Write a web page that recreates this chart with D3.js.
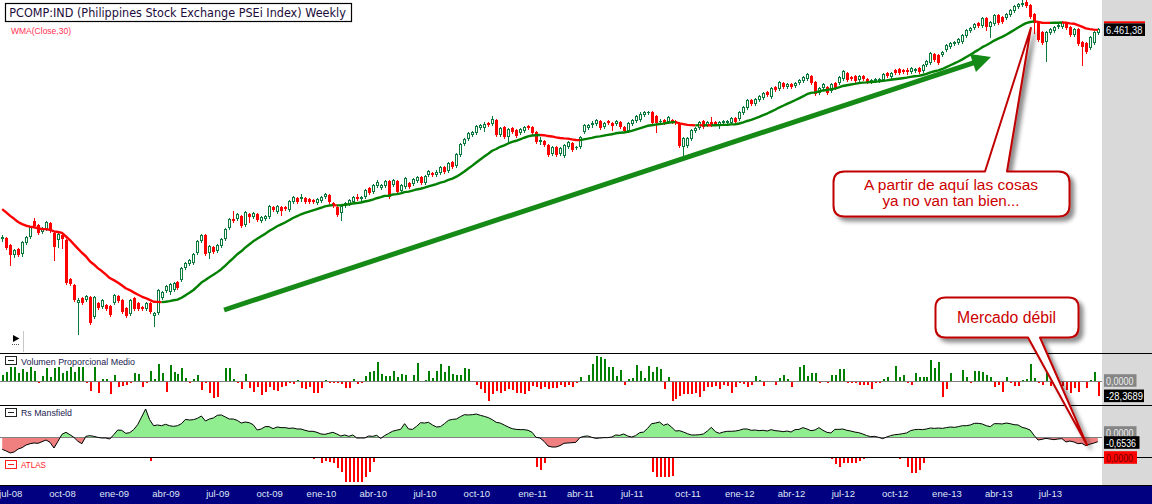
<!DOCTYPE html>
<html><head><meta charset="utf-8">
<script src="https://cdn.jsdelivr.net/npm/d3@7/dist/d3.min.js"></script>
<style>html,body{margin:0;padding:0;background:#fff;overflow:hidden}svg{display:block}</style>
</head><body>
<svg id="chart" width="1152" height="504"></svg>
<script>
// ---------------- DATA ----------------
const titleText = "PCOMP:IND (Philippines Stock Exchange PSEi Index) Weekly";
const firstWeek = "2008-06-20";   // first weekly bar (Friday)
const lastWeekBound = "2013-10-01";
const mesAbbr = ["ene","feb","mar","abr","may","jun","jul","ago","sep","oct","nov","dic"];
const tickLabels = ["jul-08","oct-08","ene-09","abr-09","jul-09","oct-09","ene-10","abr-10","jul-10","oct-10","ene-11","abr-11","jul-11","oct-11","ene-12","abr-12","jul-12","oct-12","ene-13","abr-13","jul-13"];

// closes of the 29 weeks before the first visible bar (feed the WMA only)
const preClose = [4272,4320,4224,4144,4192,4096,4032,4064,3984,3920,3952,3872,3808,3856,3776,3712,3664,3728,3632,3568,3520,3584,3488,3424,3456,3376,3328,3360,3296];

const open = [
3104,3120,3008,2848,2944,2864,3040,3136,3392,3328,
3216,3264,3360,3200,3088,3168,3088,2464,2368,2080,
2160,2128,2176,1856,2080,2016,2048,2032,2080,2192,
2128,2000,1904,2160,2080,2016,1984,2080,1872,1920,
2160,2272,2256,2288,2416,2448,2640,2704,2720,2880,
3072,3168,2880,2976,2912,2992,3104,3280,3424,3424,
3472,3328,3504,3456,3504,3392,3424,3456,3616,3536,
3616,3616,3568,3696,3760,3744,3760,3744,3728,3680,
3712,3776,3808,3680,3616,3520,3632,3664,3696,3776,
3744,3776,3920,3856,3952,3920,3952,4032,3968,4032,
3872,3936,4000,3984,4032,4096,4000,4128,4160,4128,
4160,4256,4192,4336,4272,4448,4624,4704,4768,4800,
4880,4880,4960,4944,5008,4768,4896,4736,4880,4848,
4800,4832,4912,4896,4816,4656,4672,4608,4464,4576,
4464,4432,4576,4640,4560,4576,4816,4880,4928,4944,
4992,4896,4992,4960,4944,4976,4896,4832,4944,4992,
5008,5088,5120,5136,5072,4976,5008,4976,5008,4992,
4960,4576,4592,4704,4832,4880,4992,4928,4976,4976,
4928,4960,4960,4960,5040,5024,5120,5200,5328,5264,
5328,5360,5456,5376,5536,5504,5600,5536,5584,5552,
5600,5632,5664,5712,5616,5440,5520,5536,5472,5600,
5600,5664,5760,5696,5712,5648,5712,5664,5616,5632,
5632,5648,5760,5696,5808,5824,5808,5808,5776,5792,
5840,5792,5888,5920,6064,6048,6048,6128,6176,6224,
6240,6256,6352,6432,6480,6560,6512,6640,6496,6544,
6688,6656,6640,6688,6752,6816,6848,6896,6848,6704,
6576,6416,6256,6400,6432,6496,6496,6560,6496,6368,
6464,6256,6240,6160,6240,6400];

const high = [
3168,3136,3024,2944,2960,3072,3152,3312,3440,3344,
3296,3392,3376,3216,3200,3216,3104,2480,2384,2160,
2176,2208,2192,2192,2096,2144,2064,2048,2224,2208,
2144,2016,2144,2176,2096,2032,2096,2096,1936,2304,
2272,2368,2400,2416,2432,2656,2736,2784,2880,3088,
3184,3184,3008,2992,3024,3120,3280,3440,3552,3520,
3488,3552,3520,3536,3520,3472,3488,3648,3632,3648,
3632,3632,3728,3792,3776,3824,3776,3760,3744,3760,
3792,3840,3824,3696,3632,3648,3696,3744,3792,3824,
3792,3904,3936,3984,4048,3984,4048,4048,4064,4048,
3984,4096,4016,4080,4112,4112,4128,4208,4176,4208,
4272,4272,4336,4352,4480,4640,4720,4816,4832,4928,
4944,4976,4976,5072,5024,4896,4912,4880,4896,4864,
4880,4912,4928,4912,4832,4736,4688,4624,4592,4592,
4576,4624,4672,4656,4592,4752,4944,4944,4992,5024,
5008,4976,5008,4976,5008,4992,4912,4976,5024,5088,
5136,5152,5152,5152,5088,5024,5024,5072,5024,5008,
4976,4736,4736,4864,4896,4992,5008,4992,5056,4992,
4992,5008,5008,5056,5056,5152,5232,5344,5344,5360,
5408,5456,5472,5536,5552,5632,5616,5600,5600,5616,
5664,5712,5760,5728,5632,5536,5600,5552,5600,5616,
5712,5808,5776,5712,5728,5728,5728,5680,5664,5680,
5680,5760,5776,5776,5824,5840,5824,5840,5856,5840,
5856,5904,5968,6096,6080,6064,6112,6224,6256,6272,
6320,6384,6464,6496,6560,6576,6656,6656,6592,6704,
6704,6672,6720,6784,6848,6880,6928,6928,6864,6720,
6592,6432,6432,6480,6512,6544,6592,6576,6512,6480,
6480,6272,6256,6352,6432,6480];

const low = [
3072,2944,2688,2816,2832,2832,3024,3120,3296,3184,
3200,3248,3216,2768,2976,2960,2384,2368,2112,1584,
2064,2112,1744,1840,1984,2000,1968,1872,2064,2096,
1920,1856,1888,1968,1968,1968,1968,1920,1712,1904,
2144,2256,2224,2272,2304,2432,2624,2688,2704,2864,
3056,2848,2800,2880,2896,2976,3088,3264,3376,3408,
3296,3312,3376,3440,3392,3376,3408,3440,3552,3520,
3488,3568,3552,3680,3680,3712,3680,3680,3680,3664,
3696,3760,3680,3616,3472,3408,3616,3648,3680,3728,
3728,3760,3824,3840,3936,3904,3936,3760,3952,3840,
3856,3920,3920,3968,4016,3984,3984,4112,4112,4112,
4144,4160,4176,4240,4256,4432,4608,4688,4752,4784,
4864,4832,4912,4928,4752,4752,4720,4656,4800,4736,
4784,4816,4864,4784,4640,4624,4592,4432,4448,4432,
4448,4416,4560,4512,4544,4560,4800,4864,4896,4928,
4864,4880,4944,4848,4928,4880,4816,4816,4928,4976,
4992,5072,5104,4944,4816,4960,4944,4960,4960,4944,
4576,4432,4576,4688,4816,4864,4880,4912,4912,4928,
4880,4944,4944,4944,4960,5008,5104,5184,5248,5248,
5312,5344,5392,5360,5472,5488,5520,5520,5520,5536,
5584,5616,5648,5584,5408,5424,5504,5424,5456,5504,
5584,5648,5632,5648,5616,5632,5648,5600,5600,5616,
5616,5632,5696,5680,5744,5744,5760,5744,5760,5776,
5760,5776,5872,5904,5952,5904,6032,6112,6160,6208,
6224,6240,6336,6416,6464,6496,6496,6448,6336,6528,
6544,6560,6624,6672,6736,6800,6832,6816,6640,6400,
6272,6224,5952,6384,6416,6480,6480,6464,6352,6352,
6208,5888,6080,6144,6224,6384];

const close = [
3136,2960,2848,2928,2848,3056,3136,3296,3312,3200,
3280,3376,3232,2976,3184,3104,2400,2384,2128,2128,
2080,2192,1760,2176,2000,2128,1984,1888,2208,2112,
1936,1872,2128,1984,1984,1984,2080,1936,1920,2288,
2256,2352,2384,2400,2320,2640,2720,2768,2864,3072,
3168,2864,2992,2896,3008,3104,3264,3424,3392,3504,
3312,3536,3456,3520,3408,3456,3472,3632,3568,3632,
3552,3584,3712,3776,3696,3776,3696,3696,3696,3744,
3776,3824,3696,3632,3488,3632,3680,3728,3776,3744,
3776,3888,3840,3968,4016,3968,4032,3776,4048,3856,
3968,4080,3936,4064,4096,4000,4112,4192,4128,4176,
4256,4176,4320,4256,4464,4624,4704,4800,4816,4912,
4928,4944,4928,5024,4768,4880,4736,4864,4816,4752,
4864,4896,4880,4800,4656,4688,4608,4448,4576,4448,
4560,4608,4656,4528,4576,4736,4928,4928,4960,5008,
4880,4960,4960,4912,4992,4896,4832,4960,5008,5072,
5104,5136,5136,4960,4960,4992,4960,5056,4976,4960,
4592,4720,4720,4848,4880,4976,4896,4976,4928,4944,
4976,4992,4992,5040,4976,5136,5216,5328,5264,5344,
5392,5440,5408,5520,5488,5616,5536,5584,5536,5600,
5648,5696,5744,5600,5424,5520,5584,5440,5584,5520,
5696,5792,5648,5664,5632,5712,5664,5616,5648,5664,
5664,5744,5712,5760,5760,5760,5776,5776,5840,5824,
5776,5888,5952,6080,5968,5920,6096,6208,6240,6256,
6304,6368,6448,6480,6544,6512,6640,6496,6576,6688,
6560,6576,6704,6768,6832,6864,6880,6832,6656,6560,
6288,6240,6416,6464,6496,6528,6576,6480,6368,6464,
6224,6176,6096,6336,6416,6461.38];

const volumen = [
12,18.3,26.5,26.5,15.1,23.3,18.3,27.7,20.2,-3.8,
10.1,24.6,7.6,24.6,27.7,15.1,20.2,27.7,18.3,27.7,
27.7,-3.8,-17.6,27.7,-22.7,4.4,4.4,-24.6,12,-10.1,
-8.2,-6.9,-3.8,15.1,13.9,-10.1,-3.8,19.5,3.8,32.8,
15.1,-19.5,30.9,18.3,13.2,24.6,5.7,-2.5,3.8,12,
-16.4,-3.8,-22.7,-32.1,-29,0.6,25.8,25.8,3.8,-3.8,
-15.1,13.9,-13.2,-19.5,-10.1,-25.8,-19.5,-10.1,-16.4,-17.6,
-10.1,-8.8,-3.8,-5.7,2.5,-13.2,-14.5,-10.1,-22.7,-22.7,
-13.2,2.5,-2.5,-2.5,-3.8,-5.7,-13.2,-12,4.4,-5.7,
-2.5,10.1,18.3,20.2,37.2,13,10.4,11,19.8,8.8,
13.9,11.4,0,12,35.4,0,2.5,20.2,5.7,19,
32.9,17.7,29.1,13.9,11.4,11.4,25.3,24,0,-7.6,
-15.2,-22.8,-36.7,-24,-17.7,-21.5,-19,-15.2,-16.5,-22.8,
-21.5,-24,-17.7,-8.9,-11.4,-15.2,-10.1,-15.2,-13.3,-13.3,
-7.6,-10.1,-6.3,-11.4,-2.5,7.6,0,11.4,32.9,48.1,
45.6,41.8,27.8,27.8,10.1,21.5,-6.3,5.1,6.3,30.4,
20.2,6.3,29.1,17.7,27.8,24,-15.2,7.6,-38,-34.2,
-27.8,-24,-24,-24,-21.5,-29.1,-17.7,-11.4,-10.1,-8.9,
-15.2,-6.3,-8.9,-21.5,-10.1,-2.5,-6,-10.1,-7,10.1,
2.5,-8.9,0,-1,-7,5.7,12,3.8,-11.4,0,
26.6,31,10.1,16.5,15.2,-3.8,0,-3.8,12,12,
22.8,22.8,-3.8,-3.8,-2.5,-6.3,-6.3,-6.3,-15.2,-2.5,
-2.5,3.8,8.9,0,29.1,8.9,12.7,-3.8,-7.6,15.2,
8.9,7.6,7.6,40.5,24.7,36.7,-29.1,-15.2,15.2,0,
0,21.5,8.9,-2.5,20.3,20.3,18.4,12,8.9,-11.4,
-6.3,-19.6,7.6,-3.8,-8.9,-8.9,2.5,3.8,32.9,6,
-3.8,-6.3,24.7,-8.9,-11.4,-13.3,-8.9,-16.5,-21.5,-13.3,
-19.6,1.3,-13.3,2.5,17.7,-28.3689];

const rsMansfield = [
-1.71,-1.94,-2.22,-2.08,-1.67,-1.48,-1.11,-0.93,-0.83,-0.88,
-0.65,-0.42,-0.74,-1.53,-0.60,0.37,0.65,0.32,-0.05,-0.60,
-0.93,0.09,0.19,0.09,-0.05,-0.14,-0.14,-0.28,0.32,0.97,
0.93,0.51,0.60,1.02,1.71,2.78,3.89,2.41,1.57,1.67,
1.57,1.76,1.57,1.48,1.57,1.85,2.45,2.36,2.41,2.59,
2.92,2.22,2.50,2.64,3.01,3.06,2.78,2.50,2.50,2.31,
1.94,2.08,1.99,1.71,0.97,1.11,1.44,1.44,1.16,1.39,
1.30,1.30,1.20,1.25,1.11,1.11,0.93,0.79,0.79,0.65,
0.42,0.37,0.51,0.65,0.42,0.14,0.28,0.09,0.28,-0.14,
-0.14,-0.14,0.14,0.09,0.23,-0.20,0.20,0.50,0.80,0.95,
1.06,1.85,1.11,1.06,1.48,1.99,1.94,2.04,1.67,1.39,
1.44,1.85,2.31,2.45,2.50,2.82,3.10,3.06,3.10,3.19,
3.01,2.87,2.69,2.41,2.04,1.94,1.67,1.39,1.16,1.06,
1.02,1.02,0.93,0.65,-0.05,-0.14,-0.60,-1.25,-1.39,-1.39,
-1.20,-0.88,-0.83,-0.79,-0.74,-0.09,0.09,0.14,-0.05,-0.19,
-0.14,-0.09,-0.09,0,0.28,0.23,0.42,0.14,0,0.19,
0.60,0.69,1.20,1.85,1.94,2.08,1.62,1.81,1.39,0.83,
0.88,0.69,0.46,0.28,0.28,0.32,0.42,0.83,1.34,0.74,
0.51,0.69,0.79,0.79,0.83,0.93,1.11,1.11,0.93,0.97,
0.88,0.93,0.83,1.02,0.88,0.83,0.74,0.83,0.69,1.02,
1.06,1.30,1.11,0.88,0.97,1.30,0.93,0.65,0.56,1.06,
1.06,1.11,0.93,0.83,0.69,0.60,0.42,0.19,0.05,0.09,
-0.05,-0.23,0,0.19,0.32,0.37,0.46,0.56,0.88,1.02,
1.06,1.02,1.11,1.25,1.20,1.25,1.20,1.30,1.39,1.34,
1.44,1.57,1.57,1.67,1.90,1.90,1.81,1.57,1.44,1.85,
1.85,1.81,1.94,1.85,1.71,1.67,1.34,1.20,0.97,0.23,
-0.42,-0.32,-0.19,-0.28,-0.37,-0.28,-0.23,-0.69,-0.56,-0.69,
-0.93,-0.88,-1.20,-1.00,-0.85,-0.6536];

// ATLAS: only the weeks where it is not zero
const atlasWeek  = [37,78,80,81,82,83,84,85,86,87,88,89,90,91,92,93,134,135,136,163,164,165,166,167,168,208,209,210,211,212,213,214,215,216,225,227,228,229,230,231];
const atlasValue = [-10,-5,-20,-13,-17,-20,-38,-55,-94,-94,-94,-94,-97,-77,-55,-17,-36,-46,-21,-56,-74,-74,-74,-74,-72,-5,-23,-36,-21,-21,-21,-21,-13,-5,-5,-36,-59,-59,-46,-21];

// annotation anchors (in data space)
const arrowFrom = {week: 55.7, price: 1968};
const arrowTip  = {week: 248.2, price: 6016};
const callout1Tip = {week: 258.2, price: 6480};
const callout2Tip = {week: 272.3, rs: -1.1};
const callout1Lines = ["A partir de aquí las cosas", "ya no van tan bien..."];
const callout2Text = "Mercado débil";

// ---------------- CHART ----------------
const es = d3.formatLocale({decimal:",", thousands:".", grouping:[3], currency:["",""], minus:"-"});
const fmt2 = es.format(",.2f"), fmt4 = es.format(",.4f");

const N = close.length;
const weeks = d3.utcFriday.range(new Date(firstWeek+"T00:00:00Z"), new Date(lastWeekBound+"T00:00:00Z")).slice(0, N);
const idx = d3.range(N);
const atlas = new Array(N).fill(0);
atlasWeek.forEach((w,k) => atlas[w] = atlasValue[k]);

const PLOT_R = 1102;
const xi = d3.scaleLinear().domain([0, N-1]).range([2.2, 1097.8]);
const yP = d3.scaleLinear().domain([1808, 6928]).range([320, 0]);
const yV = d3.scaleLinear().domain([-38, 38]).range([401.3, 361.3]);
const yR = d3.scaleLinear().domain([-2, 2]).range([451.4, 422.6]);
const yA = d3.scaleLinear().domain([-100, 0]).range([483, 458]);

const svg = d3.select("#chart");
const defs = svg.append("defs");
const sh = defs.append("filter").attr("id","shadow").attr("x","-10%").attr("y","-10%").attr("width","130%").attr("height","130%");
sh.append("feDropShadow").attr("dx",4).attr("dy",4).attr("stdDeviation",2.2).attr("flood-color","#000").attr("flood-opacity",0.45);
defs.append("filter").attr("id","soft").attr("x","-5%").attr("y","-5%").attr("width","110%").attr("height","110%")
  .append("feGaussianBlur").attr("stdDeviation",0.75);
defs.append("clipPath").attr("id","clipMain").append("rect").attr("x",0).attr("y",0).attr("width",PLOT_R).attr("height",353);
defs.append("clipPath").attr("id","clipUp").append("rect").attr("x",0).attr("y",405).attr("width",PLOT_R).attr("height",yR(0)-405);
defs.append("clipPath").attr("id","clipDn").append("rect").attr("x",0).attr("y",yR(0)).attr("width",PLOT_R).attr("height",457-yR(0));

svg.append("rect").attr("width",1152).attr("height",504).attr("fill","#fff");
svg.append("rect").attr("x",PLOT_R).attr("y",0).attr("width",1152-PLOT_R).attr("height",486).attr("fill","#d9d9d9");

// candles
const UPC = "#0a7a3c", DNC = "#ff0000";
const gC = svg.append("g").attr("clip-path","url(#clipMain)").attr("shape-rendering","crispEdges");
gC.selectAll("line.wick").data(idx).join("line").attr("class","wick")
  .attr("x1", i => Math.round(xi(i)) + 0.5).attr("x2", i => Math.round(xi(i)) + 0.5)
  .attr("y1", i => Math.round(yP(high[i]))).attr("y2", i => Math.round(yP(low[i])) + 1)
  .attr("stroke", i => close[i] >= open[i] ? UPC : DNC).attr("stroke-width",1);
gC.selectAll("rect.body").data(idx).join("rect").attr("class","body")
  .each(function(i){
    const cx = Math.round(xi(i));
    const up = close[i] >= open[i];
    const t = Math.round(yP(Math.max(open[i], close[i])));
    const b = Math.round(yP(Math.min(open[i], close[i])));
    const s = d3.select(this);
    if (up && b - t >= 2) {
      s.attr("x", cx - 0.5).attr("y", t + 0.5).attr("width", 2).attr("height", b - t - 1)
       .attr("fill","#fff").attr("stroke",UPC).attr("stroke-width",1);
    } else {
      s.attr("x", cx - 1).attr("y", t).attr("width", 3).attr("height", Math.max(1, b - t))
       .attr("fill", up ? UPC : DNC);
    }
  });

// WMA(Close,30)
const allClose = preClose.concat(close);
const wma = idx.map(i => { let s = 0; for (let k = 0; k < 30; k++) s += (30 - k) * allClose[i + 29 - k]; return s / 465; });
const runs = [];
for (let i = 1; i < N; i++) {
  const col = wma[i] >= wma[i-1] ? "#008000" : "#ff0000";
  if (!runs.length || runs[runs.length-1].col !== col) runs.push({col, pts:[i-1]});
  runs[runs.length-1].pts.push(i);
}
const wLine = d3.line().x(i => xi(i)).y(i => yP(wma[i]));
svg.append("g").attr("clip-path","url(#clipMain)").selectAll("path").data(runs).join("path")
  .attr("d", r => wLine(r.pts)).attr("fill","none").attr("stroke", r => r.col)
  .attr("stroke-width",2.4).attr("stroke-linejoin","round");

// green arrow
{
  const x0 = xi(arrowFrom.week), y0 = yP(arrowFrom.price);
  const x1 = xi(arrowTip.week),  y1 = yP(arrowTip.price);
  const L = Math.hypot(x1-x0, y1-y0), ux = (x1-x0)/L, uy = (y1-y0)/L;
  const bx = x1 - 19*ux, by = y1 - 19*uy, nx = -uy, ny = ux;
  const g = svg.append("g").attr("filter","url(#soft)");
  g.append("line").attr("x1",x0).attr("y1",y0).attr("x2",bx+2*ux).attr("y2",by+2*uy)
    .attr("stroke","#138a13").attr("stroke-width",5);
  g.append("polygon").attr("points",[[x1,y1],[bx+9.5*nx,by+9.5*ny],[bx-9.5*nx,by-9.5*ny]].map(p=>p.join(",")).join(" "))
    .attr("fill","#138a13");
}

// Volumen Proporcional Medio
const gV = svg.append("g").attr("shape-rendering","crispEdges");
gV.selectAll("rect").data(idx.filter(i => volumen[i] !== 0)).join("rect")
  .attr("x", i => Math.round(xi(i))).attr("width",2)
  .attr("y", i => yV(Math.max(0, volumen[i])))
  .attr("height", i => Math.abs(yV(volumen[i]) - yV(0)))
  .attr("fill", i => volumen[i] > 0 ? "#008000" : "#ff0000");
svg.append("line").attr("x1",0).attr("x2",PLOT_R).attr("y1",Math.round(yV(0))+0.5).attr("y2",Math.round(yV(0))+0.5)
  .attr("stroke","#808080").attr("stroke-width",1);

// Rs Mansfield
const rsArea = d3.area().x(i => xi(i)).y0(yR(0)).y1(i => yR(rsMansfield[i]));
svg.append("path").attr("d", rsArea(idx)).attr("fill","#90ee90").attr("clip-path","url(#clipUp)");
svg.append("path").attr("d", rsArea(idx)).attr("fill","#f08080").attr("clip-path","url(#clipDn)");
svg.append("line").attr("x1",0).attr("x2",PLOT_R).attr("y1",Math.round(yR(0))+0.5).attr("y2",Math.round(yR(0))+0.5)
  .attr("stroke","#808080").attr("stroke-width",1);
svg.append("path").attr("d", d3.line().x(i => xi(i)).y(i => yR(rsMansfield[i]))(idx))
  .attr("fill","none").attr("stroke","#000").attr("stroke-width",1);

// ATLAS
svg.append("g").attr("shape-rendering","crispEdges").selectAll("rect").data(idx.filter(i => atlas[i] !== 0)).join("rect")
  .attr("x", i => Math.round(xi(i))).attr("width",2)
  .attr("y", yA(0)).attr("height", i => yA(atlas[i]) - yA(0)).attr("fill","#ff0000");

// panel separators
[353.5, 405.5, 457.5, 485.5].forEach(y => svg.append("line").attr("x1",0).attr("x2",1152).attr("y1",y).attr("y2",y).attr("stroke","#000").attr("stroke-width",1));

// title + labels
svg.append("rect").attr("x",5.5).attr("y",3.5).attr("width",346).attr("height",18).attr("fill","#fff").attr("stroke","#000").attr("stroke-width",1.2);
svg.append("text").attr("x",9.3).attr("y",17).text(titleText)
  .attr("font-family","DejaVu Sans, Verdana, sans-serif").attr("font-size",12).attr("fill","#1c0c3c")
  .attr("textLength",336.5).attr("lengthAdjust","spacingAndGlyphs");
svg.append("text").attr("x",11).attr("y",34).text("WMA(Close,30)")
  .attr("font-family","Liberation Sans, Arial, sans-serif").attr("font-size",9.5).attr("fill","#ff3050")
  .attr("textLength",60).attr("lengthAdjust","spacingAndGlyphs");

const panels = [
  {label:"Volumen Proporcional Medio", y:356.5, base:364.5, len:114, col:"#1a1a50", box:"#222"},
  {label:"Rs Mansfield", y:408.5, base:416.3, len:51, col:"#1a1a50", box:"#222"},
  {label:"ATLAS", y:460.5, base:468.2, len:25, col:"#ff2020", box:"#ff2020"}
];
panels.forEach(p => {
  svg.append("rect").attr("x",5.5).attr("y",p.y).attr("width",11).attr("height",8).attr("fill","#fff").attr("stroke",p.box);
  svg.append("line").attr("x1",8).attr("x2",14).attr("y1",p.y+4).attr("y2",p.y+4).attr("stroke",p.box);
  svg.append("text").attr("x",21).attr("y",p.base).text(p.label)
    .attr("font-family","Liberation Sans, Arial, sans-serif").attr("font-size",9.5).attr("fill",p.col)
    .attr("textLength",p.len).attr("lengthAdjust","spacingAndGlyphs");
});

// little scroll icon bottom-left of price panel
svg.append("polygon").attr("points","13,335 13,342 19.5,338.5").attr("fill","#000");
svg.append("line").attr("x1",12).attr("x2",20).attr("y1",344.5).attr("y2",344.5).attr("stroke","#555").attr("stroke-dasharray","1,1");
svg.append("line").attr("x1",23.5).attr("x2",23.5).attr("y1",331).attr("y2",352).attr("stroke","#c8c8c8");

// value labels on the right axis
function valueLabel(cy, w, txt, bg, fg, len){
  const g = svg.append("g");
  g.append("rect").attr("x",1104).attr("y",cy-6.3).attr("width",w).attr("height",12.6).attr("fill",bg);
  g.append("text").attr("x",1106).attr("y",cy+4).text(txt)
    .attr("font-family","Liberation Sans, Arial, sans-serif").attr("font-size",10.5).attr("fill",fg)
    .attr("textLength",len).attr("lengthAdjust","spacingAndGlyphs");
  return g;
}
svg.append("rect").attr("x",1104).attr("y",21.3).attr("width",41).attr("height",2).attr("fill","#ff0000");
valueLabel(yP(close[N-1]) + 0.5, 41, fmt2(close[N-1]), "#000", "#eef2ff", 36.5);
valueLabel(yV(0) - 0.8, 32.5, fmt4(0), "#858585", "#eeeeee", 27.5);
valueLabel(yV(volumen[N-1]) - 0.4, 40, fmt4(volumen[N-1]), "#000", "#ffffff", 37);
valueLabel(yR(0) - 4.5, 32.5, fmt4(0), "#858585", "#eeeeee", 27.5);
valueLabel(yR(rsMansfield[N-1]) + 0.8, 35.5, fmt4(rsMansfield[N-1]), "#000", "#ffffff", 30);
valueLabel(yA(atlas[N-1]) - 0.5, 33, fmt4(atlas[N-1]), "#ff0000", "#6a0000", 27);

// callouts
function calloutPath(b, tip){
  const {x0,y0,x1,y1,r} = b;
  let p = `M${x0+r},${y0}`;
  if (b.side === "top") p += `L${b.tA},${y0}L${tip[0]},${tip[1]}L${b.tB},${y0}`;
  p += `L${x1-r},${y0}Q${x1},${y0} ${x1},${y0+r}L${x1},${y1-r}Q${x1},${y1} ${x1-r},${y1}`;
  if (b.side === "bottom") p += `L${b.tB},${y1}L${tip[0]},${tip[1]}L${b.tA},${y1}`;
  p += `L${x0+r},${y1}Q${x0},${y1} ${x0},${y1-r}L${x0},${y0+r}Q${x0},${y0} ${x0+r},${y0}Z`;
  return p;
}
const c1 = {x0:833.5, y0:171.5, x1:1069.5, y1:216.5, r:11, side:"top", tA:985, tB:1007};
const c2 = {x0:935.5, y0:297.5, x1:1078.5, y1:337.5, r:10, side:"bottom", tA:1028, tB:1040};
svg.append("path").attr("d", calloutPath(c1, [xi(callout1Tip.week), yP(callout1Tip.price)]))
  .attr("fill","#fff").attr("stroke","#c00000").attr("stroke-width",2).attr("stroke-linejoin","round").attr("filter","url(#shadow)");
svg.append("path").attr("d", calloutPath(c2, [xi(callout2Tip.week), yR(callout2Tip.rs)]))
  .attr("fill","#fff").attr("stroke","#c00000").attr("stroke-width",2).attr("stroke-linejoin","round").attr("filter","url(#shadow)");
[[callout1Lines[0], 189.5, 174], [callout1Lines[1], 206, 137]].forEach(([t,y,len]) =>
  svg.append("text").attr("x",951).attr("y",y).attr("text-anchor","middle").text(t)
    .attr("font-family","Liberation Sans, Arial, sans-serif").attr("font-size",15.5).attr("fill","#cc0000")
    .attr("textLength",len).attr("lengthAdjust","spacingAndGlyphs"));
svg.append("text").attr("x",1006.5).attr("y",322.7).attr("text-anchor","middle").text(callout2Text)
  .attr("font-family","Liberation Sans, Arial, sans-serif").attr("font-size",16).attr("fill","#cc0000")
  .attr("textLength",99).attr("lengthAdjust","spacingAndGlyphs");

// x axis (navy strip)
const tickIdx = tickLabels.map(l => {
  const [m, y] = l.split("-");
  const mi = mesAbbr.indexOf(m), yr = 2000 + (+y);
  return weeks.findIndex(d => d.getUTCFullYear() === yr && d.getUTCMonth() === mi);
});
const gx = svg.append("g").attr("transform","translate(0,486)");
gx.append("rect").attr("x",0).attr("y",0).attr("width",1152).attr("height",18).attr("fill","#000080");
const ga = gx.append("g").call(d3.axisBottom(xi).tickValues(tickIdx).tickFormat((d,k) => tickLabels[k]).tickSize(0));
ga.select(".domain").remove();
ga.selectAll("text").attr("y",11.3).attr("dy",0).attr("fill","#dfe6f6")
  .style("font-family","Liberation Sans, Arial, sans-serif").style("font-size","9.5px");
</script>
</body></html>
